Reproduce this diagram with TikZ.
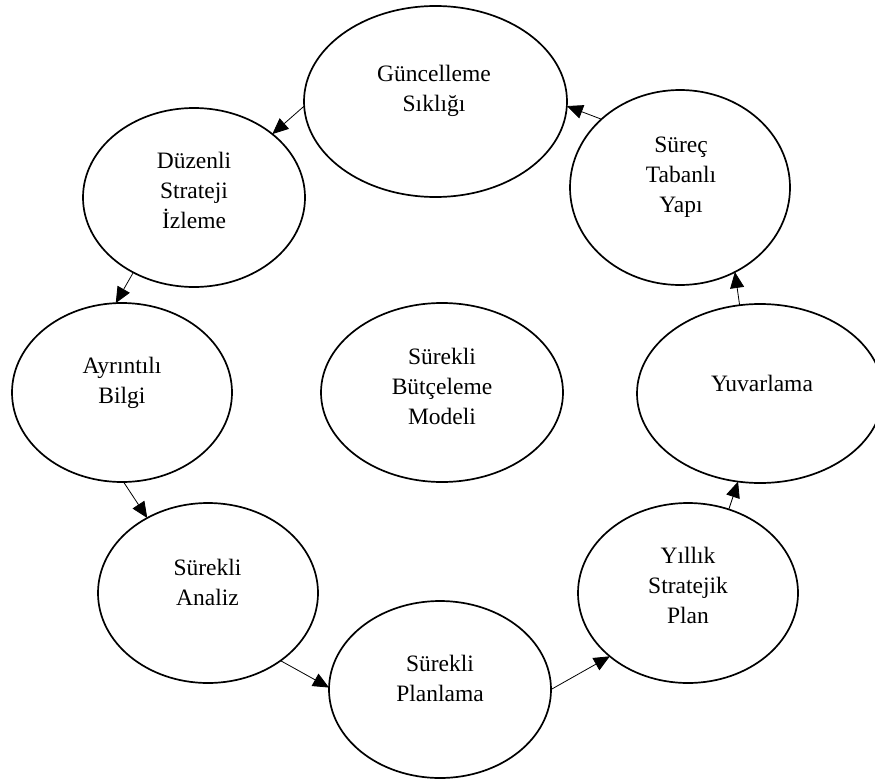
\documentclass[tikz,border=0pt]{standalone}
\usepackage{fontspec}
\setmainfont{Liberation Serif}
\usetikzlibrary{arrows.meta,shapes.geometric}
\tikzset{
  oval/.style={draw, ellipse, line width=1.7pt, inner sep=0pt, outer sep=0pt},
  lbl/.style={align=center, inner sep=0pt, font=\fontsize{23.5}{30}\selectfont},
  conn/.style={line width=0.8pt, -{Triangle[length=16pt,width=14pt]}}
}
\begin{document}
\begin{tikzpicture}[x=1pt,y=-1pt]
\useasboundingbox (0,0) rectangle (875,781);
% ellipses
\node[oval, minimum width=263pt, minimum height=191pt] (gun) at (435.5,101.5) {};
\node[oval, minimum width=222pt, minimum height=179pt] (duz) at (194,197.5) {};
\node[oval, minimum width=220pt, minimum height=195pt] (sur) at (680,187.5) {};
\node[oval, minimum width=220pt, minimum height=179pt] (ayr) at (122,392.5) {};
\node[oval, minimum width=242pt, minimum height=179pt] (but) at (442,392.5) {};
\node[oval, minimum width=246pt, minimum height=179pt] (yuv) at (760,393.5) {};
\node[oval, minimum width=220pt, minimum height=180pt] (ana) at (208,593) {};
\node[oval, minimum width=222pt, minimum height=177pt] (pla) at (440,689.5) {};
\node[oval, minimum width=220pt, minimum height=180pt] (yil) at (688,593) {};
% texts
\node[lbl] (gunT) at (434,91) {Güncelleme\\Sıklığı};
\node[lbl] (duzT) at (194,190) {Düzenli\\Strateji\\İzleme};
\node[lbl] (surT) at (681,177) {Süreç\\Tabanlı\\Yapı};
\node[lbl] (ayrT) at (122,383) {Ayrıntılı\\Bilgi};
\node[lbl] (butT) at (442,386) {Sürekli\\Bütçeleme\\Modeli};
\node[lbl] (yuvT) at (762,383) {Yuvarlama};
\node[lbl] (anaT) at (207.5,582) {Sürekli\\Analiz};
\node[lbl] (plaT) at (440,678) {Sürekli\\Planlama};
\node[lbl] (yilT) at (688,585) {Yıllık\\Stratejik\\Plan};
% connectors
\draw[conn] (sur.139.8) -- (gun.-2.4);
\draw[conn] (gun.182.8) -- (duz.39.6);
\draw[conn] (duz.231) -- (ayr.94.5);
\draw[conn] (ayr.271) -- (ana.129);
\draw[conn] (ana.317) -- (pla.179);
\draw[conn] (pla.0.8) -- (yil.219);
\draw[conn] (yil.64.5) -- (yuv.256.8);
\draw[conn] (yuv.103.8) -- (sur.303);
\end{tikzpicture}
\end{document}
